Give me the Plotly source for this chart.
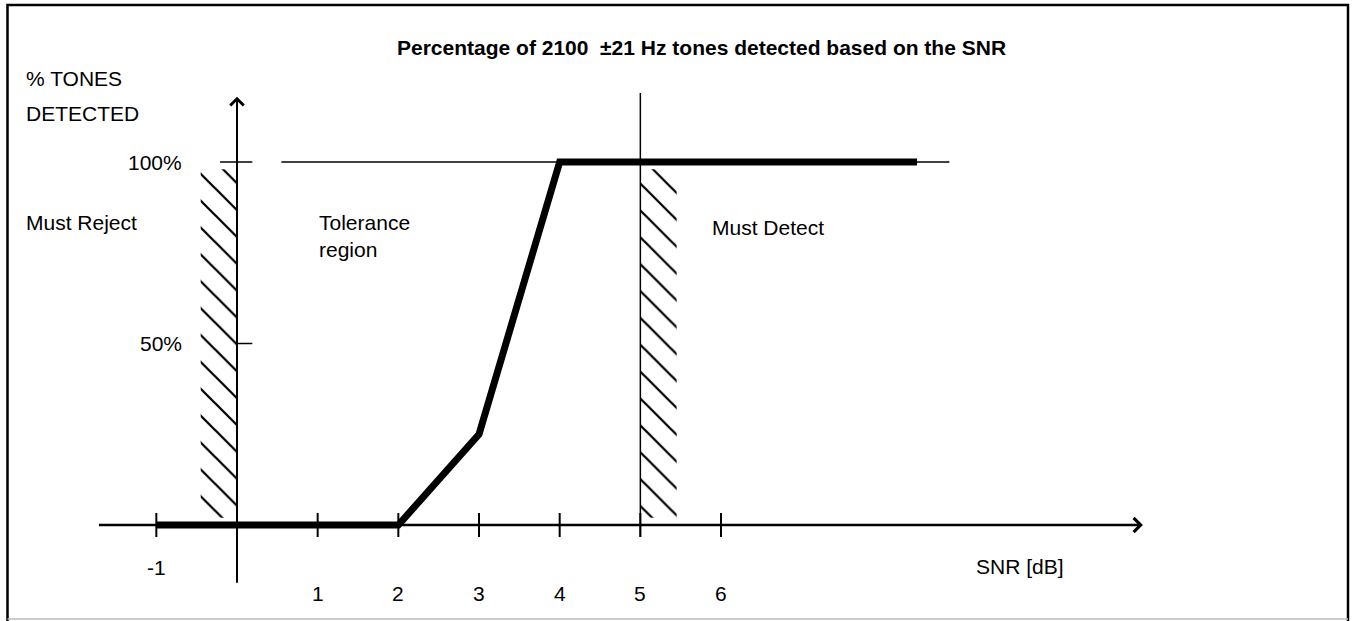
import plotly.graph_objects as go

# ---------------- data ----------------
X_TICKS = [-1, 1, 2, 3, 4, 5, 6]
X_TICK_LABELS = ["-1", "1", "2", "3", "4", "5", "6"]
Y_TICKS = [50, 100]
Y_TICK_LABELS = ["50%", "100%"]

CURVE_SNR = [-1, 2, 3, 4, 8.43]          # dB
CURVE_PCT = [0, 0, 25, 100, 100]        # % tones detected

REJECT_BAND = [-0.45, 0.0]              # dB, hatched "Must Reject" band
DETECT_BAND = [5.0, 5.45]               # dB, hatched "Must Detect" band
BAND_PCT = [2, 98]

FULL_LINE_SNR = [0.55, 8.83]            # thin 100 % reference line
THRESHOLD_SNR = 5                       # vertical threshold line
THRESHOLD_PCT = [-3.3, 119]

X_AXIS_SPAN = [-1.73, 11.23]
Y_AXIS_SPAN = [-16.3, 118]

TITLE = "Percentage of 2100  \u00b121 Hz tones detected based on the SNR"

# ---------------- geometry (pixel mapping) ----------------
W, H = 1353, 621
PX0, PXU = 237.0, 80.67      # pixel of x=0, pixels per dB
PY0, PYU = 525.0, 3.63       # pixel of y=0, pixels per %
x_range = [(0 - PX0) / PXU, (W - PX0) / PXU]
y_range = [(PY0 - H) / PYU, (PY0 - 0) / PYU]


def px2x(px):
    return (px - PX0) / PXU


def py2y(py):
    return (PY0 - py) / PYU


FONT = "Liberation Sans, Arial, sans-serif"
BLACK = "#000000"
TXT = 21

fig = go.Figure()

# hatched bands
for band in (REJECT_BAND, DETECT_BAND):
    fig.add_trace(go.Scatter(
        x=[band[0], band[1], band[1], band[0], band[0]],
        y=[BAND_PCT[0], BAND_PCT[0], BAND_PCT[1], BAND_PCT[1], BAND_PCT[0]],
        mode="lines", fill="toself", line=dict(width=0),
        fillcolor="rgba(0,0,0,0)",
        fillpattern=dict(shape="\\", size=19, solidity=0.12, fgcolor=BLACK, fgopacity=1),
        hoverinfo="skip", showlegend=False))

# thin 100% reference line
fig.add_trace(go.Scatter(x=FULL_LINE_SNR, y=[100, 100], mode="lines",
                         line=dict(color=BLACK, width=1.5), showlegend=False, hoverinfo="skip"))

# vertical threshold line
fig.add_trace(go.Scatter(x=[THRESHOLD_SNR, THRESHOLD_SNR], y=THRESHOLD_PCT, mode="lines",
                         line=dict(color=BLACK, width=1.5), showlegend=False, hoverinfo="skip"))

# x tick marks
tx, ty = [], []
for v in X_TICKS:
    tx += [v, v, None]
    ty += [-3.3, 3.3, None]
fig.add_trace(go.Scatter(x=tx, y=ty, mode="lines", line=dict(color=BLACK, width=2),
                         showlegend=False, hoverinfo="skip"))

# y tick marks (100% crosses the axis, 50% only to the right)
yx, yy = [], []
for v in Y_TICKS:
    left = -0.21 if v == 100 else 0
    yx += [left, 0.19, None]
    yy += [v, v, None]
fig.add_trace(go.Scatter(x=yx, y=yy, mode="lines", line=dict(color=BLACK, width=1.5),
                         showlegend=False, hoverinfo="skip"))

# detection curve
fig.add_trace(go.Scatter(x=CURVE_SNR, y=CURVE_PCT, mode="lines",
                         line=dict(color=BLACK, width=7), showlegend=False, hoverinfo="skip"))

annotations = []
# axes with arrow heads
annotations.append(dict(x=X_AXIS_SPAN[1], y=0, ax=X_AXIS_SPAN[0], ay=0,
                        xref="x", yref="y", axref="x", ayref="y", text="",
                        showarrow=True, arrowhead=4, arrowwidth=2.5, arrowsize=1.1,
                        arrowcolor=BLACK, standoff=0, startstandoff=0))
annotations.append(dict(x=0, y=Y_AXIS_SPAN[1], ax=0, ay=Y_AXIS_SPAN[0],
                        xref="x", yref="y", axref="x", ayref="y", text="",
                        showarrow=True, arrowhead=4, arrowwidth=2, arrowsize=1.3,
                        arrowcolor=BLACK, standoff=0, startstandoff=0))

# x tick labels
for v, lab in zip(X_TICKS, X_TICK_LABELS):
    ypix = 567 if v < 0 else 593
    annotations.append(dict(x=v, y=py2y(ypix), xref="x", yref="y", text=lab,
                            showarrow=False, xanchor="center", yanchor="middle",
                            font=dict(family=FONT, size=TXT, color=BLACK)))
# y tick labels
for v, lab in zip(Y_TICKS, Y_TICK_LABELS):
    annotations.append(dict(x=px2x(184), y=v, xref="x", yref="y", text=lab,
                            showarrow=False, xanchor="right", yanchor="middle",
                            font=dict(family=FONT, size=TXT, color=BLACK)))


def label(text, pxx, pyy, anchor="left", size=TXT, bold=False):
    t = "<b>%s</b>" % text if bold else text
    annotations.append(dict(x=px2x(pxx), y=py2y(pyy), xref="x", yref="y", text=t,
                            showarrow=False, xanchor=anchor, yanchor="middle", align="left",
                            font=dict(family=FONT, size=size, color=BLACK)))


label(TITLE, 701, 47, anchor="center", size=21, bold=True)
label("% TONES", 24, 78)
label("DETECTED", 24, 113)
label("Must Reject", 24, 222)
label("Tolerance<br>region", 317, 236)
label("Must Detect", 710, 227)
label("SNR [dB]", 974, 566)

shapes = [
    dict(type="path", xref="paper", yref="paper",
         path="M %f,%f L %f,%f L %f,%f L %f,%f" % (
             7.5 / W, 0.0, 7.5 / W, 1 - 5 / H, 1348 / W, 1 - 5 / H, 1348 / W, 0.0),
         line=dict(color=BLACK, width=2.5)),
    dict(type="line", xref="paper", yref="paper", x0=7.5 / W, x1=1348 / W,
         y0=1 - 619 / H, y1=1 - 619 / H, line=dict(color="#bbbbbb", width=1.5)),
]

fig.update_layout(
    width=W, height=H,
    margin=dict(l=0, r=0, t=0, b=0),
    paper_bgcolor="white", plot_bgcolor="white",
    xaxis=dict(range=x_range, visible=False, fixedrange=True),
    yaxis=dict(range=y_range, visible=False, fixedrange=True),
    annotations=annotations, shapes=shapes, showlegend=False,
)

fig.write_html("out.html", config={"displayModeBar": False},
               post_script="document.body.style.margin='0';document.body.style.overflow='hidden';")
